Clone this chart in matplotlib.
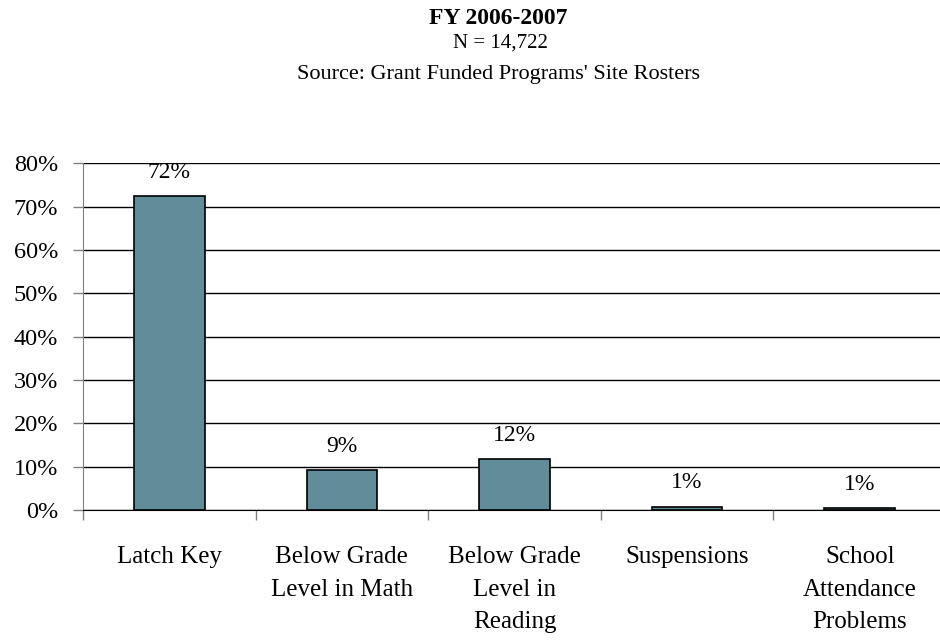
import numpy as np
import matplotlib.pyplot as plt
from matplotlib.ticker import FixedLocator, PercentFormatter

# Data
categories = ["Latch Key", "Below Grade\nLevel in Math", "Below Grade\nLevel in\nReading",
              "Suspensions", "School\nAttendance\nProblems"]
values = [72.5, 9.2, 11.7, 0.8, 0.4]
labels = ["72%", "9%", "12%", "1%", "1%"]

plt.rcParams['font.family'] = ['Liberation Serif', 'DejaVu Serif']

fig = plt.figure(figsize=(9.4, 6.44), dpi=100)
# plot area: left 83px, right ~946px (slightly past image edge), y 0% at 510px, 80% at 163px
ax = fig.add_axes([83 / 940, (644 - 510) / 644, (946 - 83) / 940, (510 - 163.3) / 644])

x = np.arange(len(categories))
ax.bar(x, values, width=0.41, color="#618c9a", edgecolor="black", linewidth=1.2, zorder=3)

for xi, v, lab in zip(x, values, labels):
    ax.annotate(lab, (xi, v), xytext=(0, 9.5), textcoords="offset points",
                ha="center", va="bottom", fontsize=17)

ax.set_xlim(-0.5, 4.5)
ax.set_ylim(0, 80)
ax.set_yticks(np.arange(0, 81, 10))
ax.yaxis.set_major_formatter(PercentFormatter(decimals=0))
ax.grid(axis="y", color="black", linewidth=1, zorder=0)

ax.set_xticks(x)
ax.set_xticklabels(categories, fontsize=18, linespacing=1.62)
ax.xaxis.set_minor_locator(FixedLocator(np.arange(-0.5, 5, 1)))
ax.tick_params(axis="x", which="major", length=0, pad=26)
ax.tick_params(axis="x", which="minor", length=7, width=1, color="#808080", direction="out")
ax.tick_params(axis="y", length=7, width=1, color="#808080", pad=11, labelsize=17.5)

for s in ["top", "right"]:
    ax.spines[s].set_visible(False)
ax.spines["left"].set_color("#808080")
ax.spines["bottom"].set_color("black")

fig.text(498 / 940, 1 - 18 / 644, "FY 2006-2007", ha="center", va="center",
         fontsize=17, fontweight="bold")
fig.text(500 / 940, 1 - 43 / 644, "N = 14,722", ha="center", va="center", fontsize=15)
fig.text(498 / 940, 1 - 74 / 644, "Source: Grant Funded Programs' Site Rosters",
         ha="center", va="center", fontsize=16)

fig.savefig("out.png", dpi=100)
